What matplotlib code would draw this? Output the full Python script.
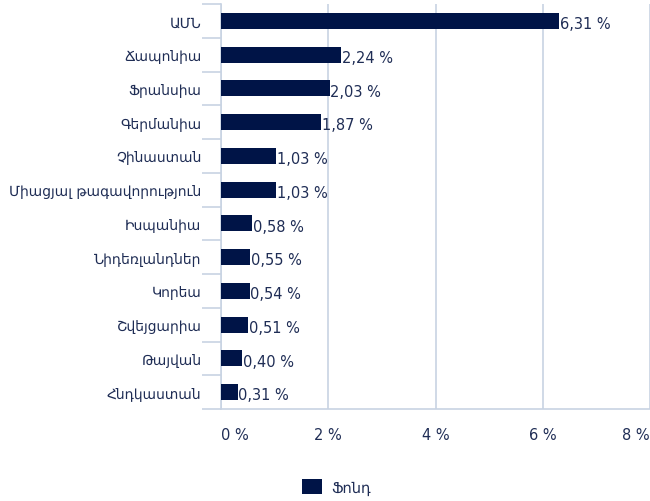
import matplotlib
matplotlib.use('Agg')
import matplotlib.pyplot as plt
from matplotlib.ticker import FixedLocator

# Данные
countries = ['ԱՄՆ', 'Ճապոնիա', 'Ֆրանսիա', 'Գերմանիա', 'Չինաստան',
             'Միացյալ թագավորություն', 'Իսպանիա', 'Նիդեռլանդներ',
             'Կորեա', 'Շվեյցարիա', 'Թայվան', 'Հնդկաստան']
values = [6.31, 2.24, 2.03, 1.87, 1.03, 1.03, 0.58, 0.55, 0.54, 0.51, 0.40, 0.31]
xticks = [0, 2, 4, 6, 8]
legend_label = 'Ֆոնդ'

bar_color = '#001447'
text_color = '#1f2d55'
grid_color = '#c8d3e3'

plt.rcParams['font.family'] = ['DejaVu Sans']

fig = plt.figure(figsize=(6.5, 5.02), dpi=100)
ax = fig.add_axes([221 / 650, 1 - 410 / 502, (650 - 221) / 650, 405 / 502])

n = len(countries)
pos = list(range(n))
ax.barh(pos, values, height=0.48, color=bar_color, zorder=3, label=legend_label)
for p, v in zip(pos, values):
    ax.text(v + 0.01, p + 0.08, f'{v:.2f} %'.replace('.', ','), va='center', ha='left',
            fontsize=10.5, color=text_color)

ax.set_ylim(n - 0.5, -0.5)
ax.set_xlim(0, 8)
ax.set_yticks(pos)
ax.set_yticklabels(countries, fontsize=10, color=text_color)
ax.yaxis.set_minor_locator(FixedLocator([i - 0.5 for i in range(n + 1)]))
ax.tick_params(axis='y', which='major', length=0, pad=14)
ax.tick_params(axis='y', which='minor', length=14, color=grid_color, width=1.2)

ax.set_xticks(xticks)
ax.set_xticklabels([f'{t} %' for t in xticks], fontsize=10.5, color=text_color)
ax.tick_params(axis='x', length=0, pad=13)
# крайние подписи прижаты внутрь, как в Excel
xl = ax.get_xticklabels()
xl[0].set_horizontalalignment('left')
xl[-1].set_horizontalalignment('right')

ax.grid(axis='x', color=grid_color, linewidth=1.2, zorder=0)
for s in ['top', 'right']:
    ax.spines[s].set_visible(False)
for s in ['left', 'bottom']:
    ax.spines[s].set_color(grid_color)
    ax.spines[s].set_linewidth(1.2)

fig.legend(loc='center', bbox_to_anchor=(336 / 650, 1 - 488 / 502), frameon=False,
           fontsize=10.5, labelcolor=text_color, handlelength=1.4, handleheight=1.2,
           handletextpad=0.6)

fig.savefig('out.png', dpi=100)
